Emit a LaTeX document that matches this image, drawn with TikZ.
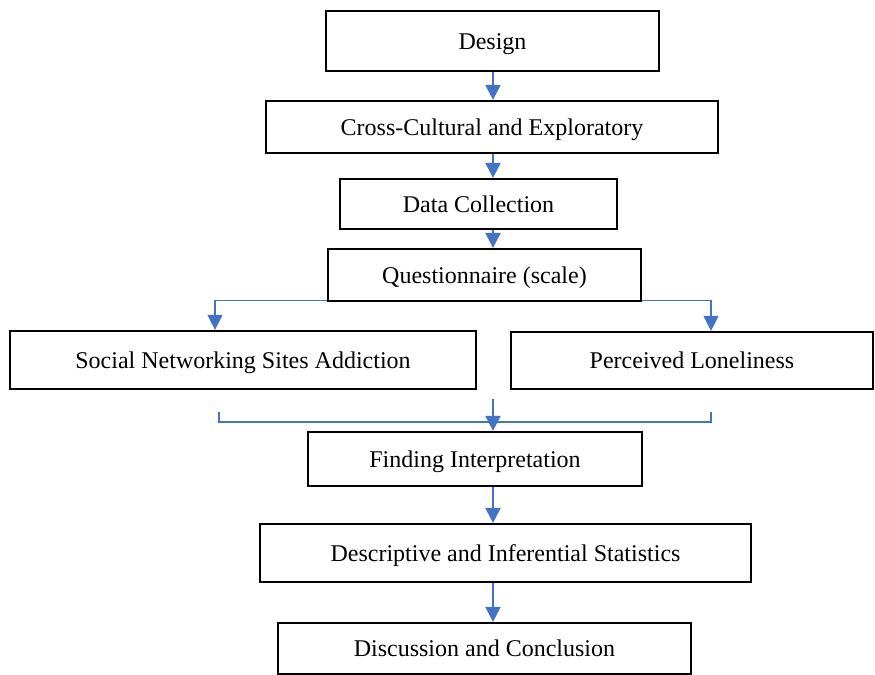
\documentclass[tikz,border=0pt]{standalone}
\usepackage{fontspec}
\setmainfont{Liberation Serif}
\usetikzlibrary{arrows.meta,positioning,calc}
\definecolor{pfeilblau}{HTML}{4472C4}

\begin{document}
\begin{tikzpicture}[x=0.5pt,y=-0.5pt,
  kasten/.style={draw=black,line width=1.1pt,inner sep=0pt,text height=0.96em,text depth=0.14em,font=\fontsize{12}{14}\selectfont},
  fluss/.style={draw=pfeilblau,line width=1.1pt,-{Triangle[width=7.5pt,length=7.5pt]}},
  zweig/.style={draw=pfeilblau,line width=0.6pt},
  ]
\useasboundingbox (0,0) rectangle (875,675);
%Kaesten (Mittelpunkt in Pixeln, Breite und Hoehe in pt)
\node[kasten,minimum width=166.5pt,minimum height=30pt] (design) at (492.5,41) {Design};
\node[kasten,minimum width=226pt,minimum height=26pt] (cross) at (492,127) {Cross-Cultural and Exploratory};
\node[kasten,minimum width=138.5pt,minimum height=25pt] (daten) at (478.5,204) {Data Collection};
\node[kasten,minimum width=156.5pt,minimum height=26pt] (frage) at (484.5,275) {Questionnaire (scale)};
\node[kasten,minimum width=233pt,minimum height=29pt] (sns) at (243,360) {Social Networking Sites Addiction};
\node[kasten,minimum width=181pt,minimum height=28.5pt] (einsam) at (692,360.5) {Perceived Loneliness};
\node[kasten,minimum width=167pt,minimum height=27pt] (deutung) at (475,459) {Finding Interpretation};
\node[kasten,minimum width=245.5pt,minimum height=29pt] (statistik) at (505.5,553) {Descriptive and Inferential Statistics};
\node[kasten,minimum width=206.5pt,minimum height=25.5pt] (schluss) at (484.5,648.5) {Discussion and Conclusion};
%Hilfspunkte
\coordinate (achse) at (493,0);
\coordinate (links) at (215,0);
\coordinate (rechts) at (711,0);
\coordinate (mL) at (219,412);
\coordinate (mR) at (711,412);
\coordinate (moben) at (493,399);
%Pfeile
\draw[fluss] (design.south -| achse) -- (cross.north -| achse);
\draw[fluss] (cross.south -| achse) -- (daten.north -| achse);
\draw[fluss] (daten.south -| achse) -- (frage.north -| achse);
\draw[zweig,-{Triangle[width=7.5pt,length=7.5pt]}] ([yshift=1pt]frage.south west) -| (sns.north -| links);
\draw[zweig,-{Triangle[width=7.5pt,length=7.5pt]}] ([yshift=1pt]frage.south east) -| (einsam.north -| rechts);
\draw[zweig] (mL) -- ++(0,10) -| (mR);
\draw[fluss,line width=0.8pt] (moben) -- (deutung.north -| moben);
\draw[fluss] (deutung.south -| achse) -- (statistik.north -| achse);
\draw[fluss] (statistik.south -| achse) -- (schluss.north -| achse);
\end{tikzpicture}
\end{document}
